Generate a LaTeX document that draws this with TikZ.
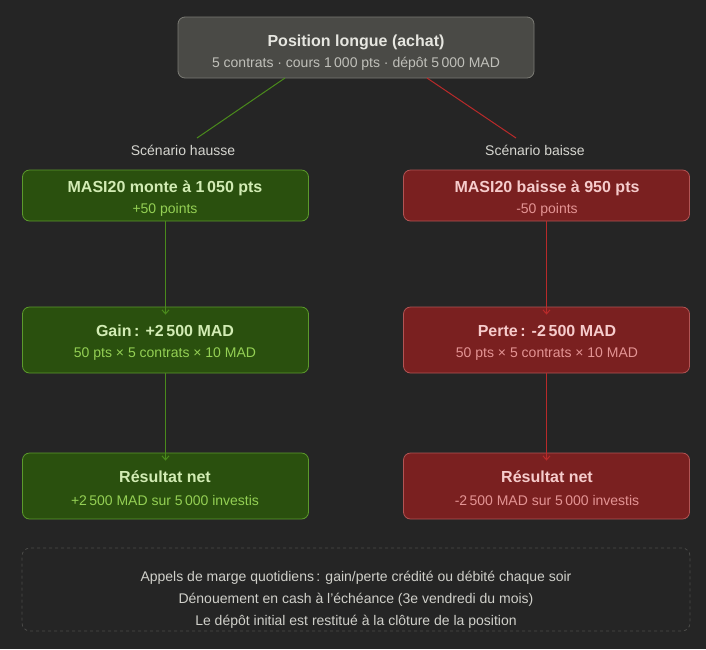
\documentclass[tikz,border=0pt]{standalone}
\usepackage{fontspec}
\setmainfont{Liberation Sans}
\usetikzlibrary{arrows.meta}
\definecolor{bg}{HTML}{252525}
\definecolor{topfill}{HTML}{4A4A46}
\definecolor{topdraw}{HTML}{7A7A74}
\definecolor{toptxt}{HTML}{E6E6E0}
\definecolor{topsub}{HTML}{C0C0BA}
\definecolor{gfill}{HTML}{2A500E}
\definecolor{gdraw}{HTML}{5C9A2C}
\definecolor{gtxt}{HTML}{D2ECB4}
\definecolor{gsub}{HTML}{94D054}
\definecolor{glinec}{HTML}{4A8A1C}
\definecolor{rfill}{HTML}{7A2020}
\definecolor{rdraw}{HTML}{B25454}
\definecolor{rtxt}{HTML}{F6CCCC}
\definecolor{rsub}{HTML}{E49494}
\definecolor{rlinec}{HTML}{B82A2A}
\definecolor{lbl}{HTML}{D6D6D0}
\definecolor{note}{HTML}{D0D0CA}
\definecolor{dashc}{HTML}{4A4A48}
\tikzset{
  box/.style={rounded corners=7pt, line width=0.8pt, minimum width=286pt, align=center, inner sep=0pt},
  gbox/.style={box, fill=gfill, draw=gdraw},
  rbox/.style={box, fill=rfill, draw=rdraw},
  ttl/.style={font=\bfseries\fontsize{16}{19}\selectfont},
  sub/.style={font=\fontsize{14}{17}\selectfont},
  garrow/.style={draw=glinec, line width=1pt, -{Straight Barb[length=4pt,width=7pt]}},
  rarrow/.style={draw=rlinec, line width=1pt, -{Straight Barb[length=4pt,width=7pt]}},
  gconn/.style={draw=glinec, line width=1pt},
  rconn/.style={draw=rlinec, line width=1pt},
  slabel/.style={text=lbl, font=\fontsize{14}{17}\selectfont},
}
\begin{document}
\begin{tikzpicture}[x=1pt,y=-1pt]
\fill[bg] (0,0) rectangle (706,649);
\useasboundingbox (0,0) rectangle (706,649);
% top box
\node[box, fill=topfill, draw=topdraw, minimum width=356pt, minimum height=61pt] (top) at (356,47.5) {};
\node[ttl, text=toptxt] (toptitle) at (356,42) {Position longue (achat)};
\node[sub, text=topsub] (topsub) at (356,64) {5 contrats · cours 1\,000 pts · dépôt 5\,000 MAD};
% scenario labels
\node[slabel] (lh) at (183,150) {Scénario hausse};
\node[slabel] (lb) at (535,150) {Scénario baisse};
\coordinate (tg) at (285,78);
\coordinate (tr) at (427,78);
\coordinate (eg) at (197,138);
\coordinate (er) at (516,138);
\draw[gconn] (tg) -- (eg);
\draw[rconn] (tr) -- (er);
% green column
\node[gbox, minimum height=51pt] (g1) at (165.5,195.5) {};
\node[ttl, text=gtxt] (g1t) at (165,188) {MASI20 monte à 1\,050 pts};
\node[sub, text=gsub] (g1s) at (165,210) {+50 points};
\node[gbox, minimum height=66pt] (g2) at (165.5,340) {};
\node[ttl, text=gtxt] (g2t) at (165,331) {Gain\,: +2\,500 MAD};
\node[sub, text=gsub] (g2s) at (165,354) {50 pts × 5 contrats × 10 MAD};
\node[gbox, minimum height=66pt] (g3) at (165.5,486) {};
\node[ttl, text=gtxt] (g3t) at (165,477) {Résultat net};
\node[sub, text=gsub] (g3s) at (165,500) {+2\,500 MAD sur 5\,000 investis};
% red column
\node[rbox, minimum height=51pt] (r1) at (546.5,195.5) {};
\node[ttl, text=rtxt] (r1t) at (547,188) {MASI20 baisse à 950 pts};
\node[sub, text=rsub] (r1s) at (547,210) {-50 points};
\node[rbox, minimum height=66pt] (r2) at (546.5,340) {};
\node[ttl, text=rtxt] (r2t) at (547,331) {Perte\,: -2\,500 MAD};
\node[sub, text=rsub] (r2s) at (547,354) {50 pts × 5 contrats × 10 MAD};
\node[rbox, minimum height=66pt] (r3) at (546.5,486) {};
\node[ttl, text=rtxt] (r3t) at (547,477) {Résultat net};
\node[sub, text=rsub] (r3s) at (547,500) {-2\,500 MAD sur 5\,000 investis};
% arrows
\draw[garrow] (g1.south) -- ([yshift=-8pt]g2.north);
\draw[garrow] (g2.south) -- ([yshift=-8pt]g3.north);
\draw[rarrow] (r1.south) -- ([yshift=-8pt]r2.north);
\draw[rarrow] (r2.south) -- ([yshift=-8pt]r3.north);
% note box
\node[draw=dashc, dashed, rounded corners=8pt, line width=0.8pt, minimum width=668pt, minimum height=83pt] (notebox) at (356,589.5) {};
\node[text=note, align=center, font=\fontsize{14}{22}\selectfont] (notetxt) at (356,600) {Appels de marge quotidiens\,: gain/perte crédité ou débité chaque soir\\Dénouement en cash à l’échéance (3e vendredi du mois)\\Le dépôt initial est restitué à la clôture de la position};
\end{tikzpicture}
\end{document}
